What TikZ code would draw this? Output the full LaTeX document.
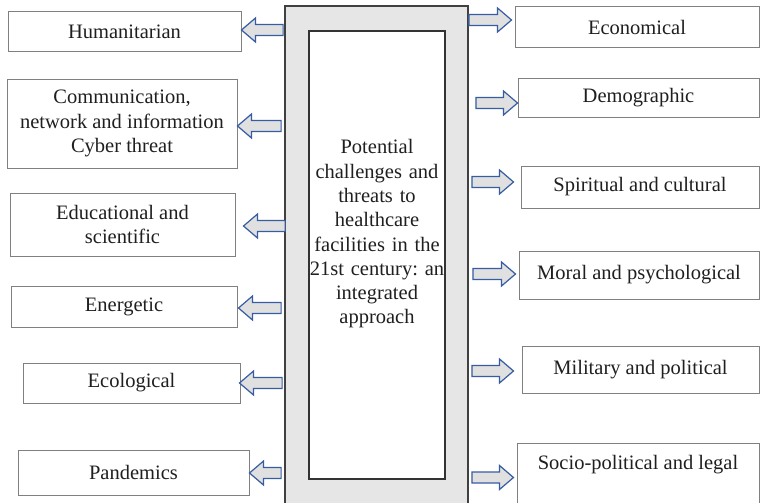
\documentclass[tikz,border=0pt]{standalone}
\usepackage{fontspec}
\setmainfont{Liberation Serif}
\usetikzlibrary{calc,positioning}
\frenchspacing

\definecolor{arrowblue}{RGB}{54,92,162}
\definecolor{framegray}{RGB}{230,230,230}

% block arrow from #1 (tail) to #2 (tip), horizontal
\newcommand{\blockarrow}[2]{%
  \draw[flowarrow] let \p1=#1, \p2=#2, \n1={sign(\x1-\x2)*14} in
    (\x1,\y1+5.5pt) -- (\x2+\n1,\y1+5.5pt) -- (\x2+\n1,\y1+12pt) -- (\x2,\y1)
    -- (\x2+\n1,\y1-12pt) -- (\x2+\n1,\y1-5.5pt) -- (\x1,\y1-5.5pt) -- cycle;}

\begin{document}
\begin{tikzpicture}[
    x=1pt, y=-1pt,
    font=\fontsize{20.5}{24.3}\selectfont,
    threatbox/.style={rectangle, draw=black!50, line width=1pt, fill=white, align=center, inner sep=0pt, text=black!88},
    framebox/.style={rectangle, draw=black!75, line width=1.8pt, fill=framegray},
    corebox/.style={rectangle, draw=black!80, line width=1.3pt, fill=white},
    flowarrow/.style={draw=arrowblue, line width=1.2pt, fill=black!12, line join=miter}
]
\useasboundingbox (0,0) rectangle (760,503);

% Central block
\node[framebox, minimum width=183pt, minimum height=508pt] (frame) at (376.5,260) {};
\node[corebox, minimum width=136pt, minimum height=448pt] (core) at (377,255) {};
\node[align=center, text width=140pt, inner sep=0pt, text=black!88] (title) at (377,234)
  {Potential\\challenges and\\threats to\\healthcare\\facilities in the\\21st century: an\\integrated\\approach};

% Left threats
\node[threatbox, minimum width=233pt, minimum height=40pt] (hum) at (124.5,32) {Humanitarian};
\node[threatbox, minimum width=230pt, minimum height=89pt] (comm) at (122,123.5) {Communication,\\network and information\\Cyber threat};
\node[threatbox, minimum width=225pt, minimum height=63pt] (edu) at (122.5,224.5) {Educational and\\scientific};
\node[threatbox, minimum width=226pt, minimum height=41pt] (ener) at (124,306.5) {Energetic};
\node[threatbox, minimum width=217pt, minimum height=40pt] (ecol) at (131.5,383) {Ecological};
\node[threatbox, minimum width=231pt, minimum height=45pt] (pand) at (133.5,472.5) {Pandemics};

% Right threats
\node[threatbox, minimum width=244pt, minimum height=41pt] (econ) at (637,27.5) {Economical};
\node[threatbox, minimum width=241pt, minimum height=39pt] (demo) at (638.5,97.5) {Demographic};
\node[threatbox, minimum width=238pt, minimum height=42pt] (spir) at (640,187) {Spiritual and cultural};
\node[threatbox, minimum width=240pt, minimum height=48pt] (moral) at (639,275) {Moral and psychological};
\node[threatbox, minimum width=237pt, minimum height=47pt] (mil) at (640.5,369.5) {Military and political};
\node[threatbox, minimum width=242pt, text height=26pt, text depth=37pt, anchor=north] (socio) at (638,443) {Socio-political and legal};

% Connections
\blockarrow{($(frame.west |- hum.east)+(-1,-2)$)}{($(hum.east)+(0,-2)$)}
\blockarrow{($(frame.west |- comm.east)+(-3,2.5)$)}{($(comm.east)+(0,2.5)$)}
\blockarrow{($(frame.west |- edu.east)+(1,1.5)$)}{($(edu.east)+(8,1.5)$)}
\blockarrow{($(frame.west |- ener.east)+(-3,1.5)$)}{($(ener.east)+(1,1.5)$)}
\blockarrow{($(frame.west |- ecol.east)+(-2,0)$)}{($(ecol.east)+(-1,0)$)}
\blockarrow{($(frame.west |- pand.east)+(-3,0.5)$)}{($(pand.east)+(0,0.5)$)}

\blockarrow{($(frame.east |- econ.west)+(0,-7.5)$)}{($(econ.west)+(-3,-7.5)$)}
\blockarrow{($(frame.east |- demo.west)+(7,5.5)$)}{($(demo.west)+(0,5.5)$)}
\blockarrow{($(frame.east |- spir.west)+(3,-5)$)}{($(spir.west)+(-7,-5)$)}
\blockarrow{($(frame.east |- moral.west)+(4,-1)$)}{($(moral.west)+(-3,-1)$)}
\blockarrow{($(frame.east |- mil.west)+(3,1.5)$)}{($(mil.west)+(-8,1.5)$)}
\blockarrow{($(frame.east |- socio.west)+(3,2.5)$)}{($(socio.west)+(-3,2.5)$)}

\end{tikzpicture}
\end{document}
